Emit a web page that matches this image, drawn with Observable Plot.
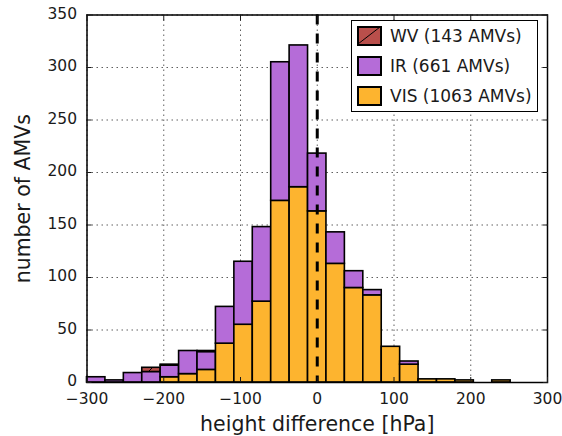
<!DOCTYPE html>
<html><head><meta charset="utf-8">
<script src="https://cdn.jsdelivr.net/npm/d3@7"></script>
<script src="https://cdn.jsdelivr.net/npm/@observablehq/plot@0.6"></script>
<style>
html,body{margin:0;padding:0;background:#fff;}
#wrap{position:relative;width:562px;height:436px;font-family:"DejaVu Sans",sans-serif;}
#legend{position:absolute;left:351px;top:20px;width:185px;height:90px;border:1.5px solid #000;background:#fff;}
.row{position:absolute;left:5px;height:20px;display:flex;align-items:center;}
.row svg{display:block;}
.row span{margin-left:8px;font-size:17px;color:#1a1a1a;white-space:nowrap;}
</style></head>
<body>
<svg width="0" height="0" style="position:absolute">
  <defs>
    <pattern id="hatchWV" patternUnits="userSpaceOnUse" width="10" height="10">
      <rect width="10" height="10" fill="#b94f4b"></rect>
      <path d="M0,10 L10,0 M-2,2 L2,-2 M8,12 L12,8" stroke="#000" stroke-width="1"></path>
    </pattern>
  </defs>
</svg>
<div id="wrap"><div id="legend"></div></div>
<script>
const binEdges = [-300,-276,-252,-228,-204,-180,-156,-132,-108,-84,-60,-36,-12,12,36,60,84,108,132,156,180,204,228,252,276,300];
const visCounts = [0,0,0,0,5,8,12,37,55,77,173,186,163,113,90,83,34,17,3,3,2,0,2,0,0];
const irCounts  = [5,2,9,10,11,22,17,35,60,71,132,135,55,30,16,5,0,3,0,0,0,0,0,0,0];
const wvCounts  = [0,0,0,4,1,0,1,0,0,0,0,0,0,0,0,0,0,0,0,0,0,0,0,0,0];
const seriesNames = ["VIS","IR","WV"];
const seriesFills = ["#fdb42f","#b56cd8","url(#hatchWV)"];
const legendLabels = ["WV (143 AMVs)","IR (661 AMVs)","VIS (1063 AMVs)"];
const legendColors = ["#b94f4b","#b56cd8","#fdb42f"];
const xTicks = [-300,-200,-100,0,100,200,300];
const yTicks = [0,50,100,150,200,250,300,350];
const refLine = [0];

const rows = [];
const counts = [visCounts, irCounts, wvCounts];
for (let i = 0; i < visCounts.length; i++) {
  seriesNames.forEach((s, k) => rows.push({x1: binEdges[i], x2: binEdges[i+1], series: s, count: counts[k][i]}));
}

const chart = Plot.plot({
  width: 562, height: 436,
  marginLeft: 86.5, marginRight: 15, marginTop: 14.5, marginBottom: 54,
  style: {fontFamily: "DejaVu Sans", fontSize: "15.5px", color: "#1a1a1a", background: "#fff"},
  x: {domain: [-300, 300]},
  y: {domain: [0, 350]},
  color: {domain: seriesNames, range: seriesFills},
  marks: [
    Plot.gridX(xTicks, {stroke: "#000", strokeOpacity: 0.7, strokeWidth: 0.9, strokeDasharray: "1.5,3.5"}),
    Plot.gridY(yTicks, {stroke: "#000", strokeOpacity: 0.7, strokeWidth: 0.9, strokeDasharray: "1.5,3.5"}),
    Plot.rectY(rows, {x1: "x1", x2: "x2", y: "count", fill: "series", stroke: "#000", strokeWidth: 1.6}),
    Plot.ruleX(refLine, {stroke: "#000", strokeWidth: 3, strokeDasharray: "10,9"}),
    Plot.frame({stroke: "#000", strokeWidth: 1.5}),
    Plot.axisX(xTicks, {anchor: "bottom", tickSize: 0, tickPadding: 10, tickFormat: d3.format("d"), label: null}),
    Plot.axisX(xTicks, {anchor: "bottom", tickSize: -5, tickFormat: () => "", label: null}),
    Plot.axisX(xTicks, {anchor: "top", tickSize: -5, tickFormat: () => "", label: null}),
    Plot.axisY(yTicks, {anchor: "left", tickSize: 0, tickPadding: 10, dy: -1, label: null}),
    Plot.axisY(yTicks, {anchor: "left", tickSize: -5, tickFormat: () => "", label: null}),
    Plot.axisY(yTicks, {anchor: "right", tickSize: -5, tickFormat: () => "", label: null}),
    Plot.text(["height difference [hPa]"], {frameAnchor: "bottom", dy: 42, lineAnchor: "middle", textAnchor: "middle", text: d => d, fontSize: 20.5}),
    Plot.text(["number of AMVs"], {frameAnchor: "left", dx: -64, rotate: -90, lineAnchor: "middle", textAnchor: "middle", text: d => d, fontSize: 20.5})
  ]
});
document.getElementById("wrap").prepend(chart);

const legend = document.getElementById("legend");
const rowTops = [5, 35, 65];
legendLabels.forEach((lab, i) => {
  const row = document.createElement("div");
  row.className = "row";
  row.style.top = rowTops[i] + "px";
  const hatch = i === 0 ? '<path d="M1,18 L23,1" stroke="#000" stroke-width="1"/>' : "";
  row.innerHTML = `<svg width="25" height="20"><rect x="1" y="1" width="23" height="18" fill="${legendColors[i]}" stroke="#000" stroke-width="2"/>${hatch}</svg><span>${lab}</span>`;
  legend.appendChild(row);
});
</script>
</body></html>
